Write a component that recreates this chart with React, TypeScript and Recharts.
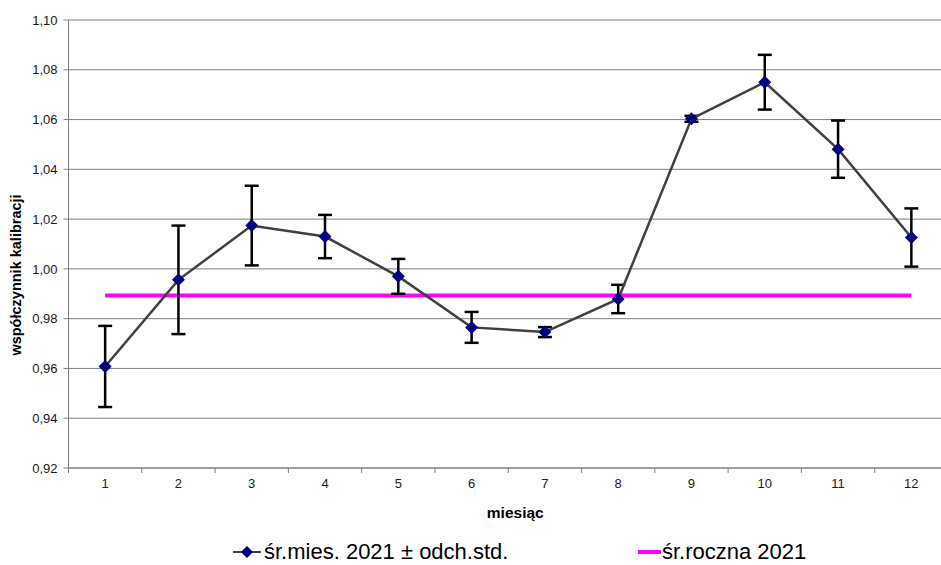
import React from "react";
import {
  ComposedChart,
  Line,
  XAxis,
  YAxis,
  CartesianGrid,
  ErrorBar,
  Legend,
} from "recharts";

const months = ["1", "2", "3", "4", "5", "6", "7", "8", "9", "10", "11", "12"];
const monthlyMean = [
  0.9608, 0.9956, 1.0174, 1.013, 0.997, 0.9765, 0.9746, 0.9879, 1.0603, 1.075,
  1.0481, 1.0126,
];
const monthlyStd = [
  0.0163, 0.0218, 0.016, 0.0087, 0.007, 0.0062, 0.002, 0.0057, 0.0012, 0.011,
  0.0115, 0.0117,
];
const annualMean = 0.9893;
const yTicks = [0.92, 0.94, 0.96, 0.98, 1.0, 1.02, 1.04, 1.06, 1.08, 1.1];

const seriesMonthly = "śr.mies. 2021 ± odch.std.";
const seriesAnnual = "śr.roczna 2021";

const data = months.map((m, i) => ({
  month: m,
  mean: monthlyMean[i],
  std: monthlyStd[i],
  annual: annualMean,
}));

const W = 960;
const H = 565;
const MARGIN = { top: 20, right: 12, left: 0, bottom: 0 };
const Y_AXIS_W = 68.5;
const STEP = (W - MARGIN.left - MARGIN.right - Y_AXIS_W) / months.length;
const FONT = "'Liberation Sans', Arial, sans-serif";
const GRID = "#7f7f7f";

function Diamond(props: any) {
  const { cx, cy } = props;
  if (cx == null || cy == null) return null;
  const r = 6.5;
  return (
    <polygon
      points={`${cx},${cy - r} ${cx + r},${cy} ${cx},${cy + r} ${cx - r},${cy}`}
      fill="#000080"
    />
  );
}

function MonthTick(props: any) {
  const { x, y, payload } = props;
  const bx = x - STEP / 2;
  return (
    <g>
      <line x1={bx} x2={bx} y1={y} y2={y + 5} stroke={GRID} />
      <text
        x={x}
        y={y + 20}
        textAnchor="middle"
        fontSize={13}
        fontFamily={FONT}
        fill="#1a1a1a"
      >
        {payload.value}
      </text>
    </g>
  );
}

function YTitle(props: any) {
  const { viewBox } = props;
  const x = viewBox.x + 16;
  const y = viewBox.y + viewBox.height / 2 + 31;
  return (
    <text
      x={x}
      y={y}
      transform={`rotate(-90, ${x}, ${y})`}
      textAnchor="middle"
      dominantBaseline="central"
      fontSize={14.5}
      fontWeight="bold"
      fontFamily={FONT}
      fill="#000"
    >
      współczynnik kalibracji
    </text>
  );
}

function ChartLegend() {
  const txt: React.CSSProperties = {
    position: "absolute",
    top: 9,
    fontSize: 22,
    fontFamily: FONT,
    color: "#000",
    lineHeight: "25px",
    whiteSpace: "nowrap",
  };
  return (
    <div style={{ position: "relative", height: 35 }}>
      <svg
        width={30}
        height={20}
        style={{ position: "absolute", left: 233, top: 12 }}
      >
        <line x1={0} x2={28} y1={10} y2={10} stroke="#404040" strokeWidth={2} />
        <polygon points="14,4 20,10 14,16 8,10" fill="#000080" />
      </svg>
      <span style={{ ...txt, left: 264 }}>{seriesMonthly}</span>
      <svg
        width={24}
        height={20}
        style={{ position: "absolute", left: 638, top: 12 }}
      >
        <line x1={0} x2={23} y1={10} y2={10} stroke="#ff00ff" strokeWidth={4} />
      </svg>
      <span style={{ ...txt, left: 662 }}>{seriesAnnual}</span>
    </div>
  );
}

export default function App() {
  return (
    <div
      style={{
        position: "absolute",
        left: 0,
        top: 0,
        width: 941,
        height: 565,
        overflow: "hidden",
        background: "#fff",
      }}
    >
      <ComposedChart width={W} height={H} data={data} margin={MARGIN}>
        <CartesianGrid vertical={false} stroke={GRID} />
        <XAxis
          dataKey="month"
          height={62}
          padding={{ left: STEP / 2, right: STEP / 2 }}
          axisLine={{ stroke: GRID }}
          tickLine={false}
          tickSize={0}
          tickMargin={0}
          interval={0}
          tick={<MonthTick />}
          label={{
            value: "miesiąc",
            position: "insideBottom",
            offset: 12,
            dx: 7,
            style: {
              fontSize: 15.5,
              fontWeight: "bold",
              fontFamily: FONT,
              fill: "#000",
            },
          }}
        />
        <YAxis
          width={Y_AXIS_W}
          domain={[0.92, 1.1]}
          ticks={yTicks}
          allowDataOverflow
          axisLine={{ stroke: GRID }}
          tickLine={{ stroke: GRID }}
          tickSize={5}
          tickMargin={6}
          tick={{ fontSize: 13, fontFamily: FONT, fill: "#1a1a1a" }}
          tickFormatter={(v: number) => v.toFixed(2).replace(".", ",")}
          label={{ content: <YTitle /> }}
        />
        <Line
          dataKey="annual"
          name={seriesAnnual}
          stroke="#ff00ff"
          strokeWidth={4}
          dot={false}
          activeDot={false}
          isAnimationActive={false}
        />
        <Line
          dataKey="mean"
          name={seriesMonthly}
          type="linear"
          stroke="#404040"
          strokeWidth={2.5}
          dot={<Diamond />}
          activeDot={false}
          isAnimationActive={false}
        >
          <ErrorBar
            dataKey="std"
            direction="y"
            width={7}
            stroke="#000"
            strokeWidth={2.5}
          />
        </Line>
        <Legend
          verticalAlign="bottom"
          height={35}
          content={<ChartLegend />}
        />
      </ComposedChart>
    </div>
  );
}
